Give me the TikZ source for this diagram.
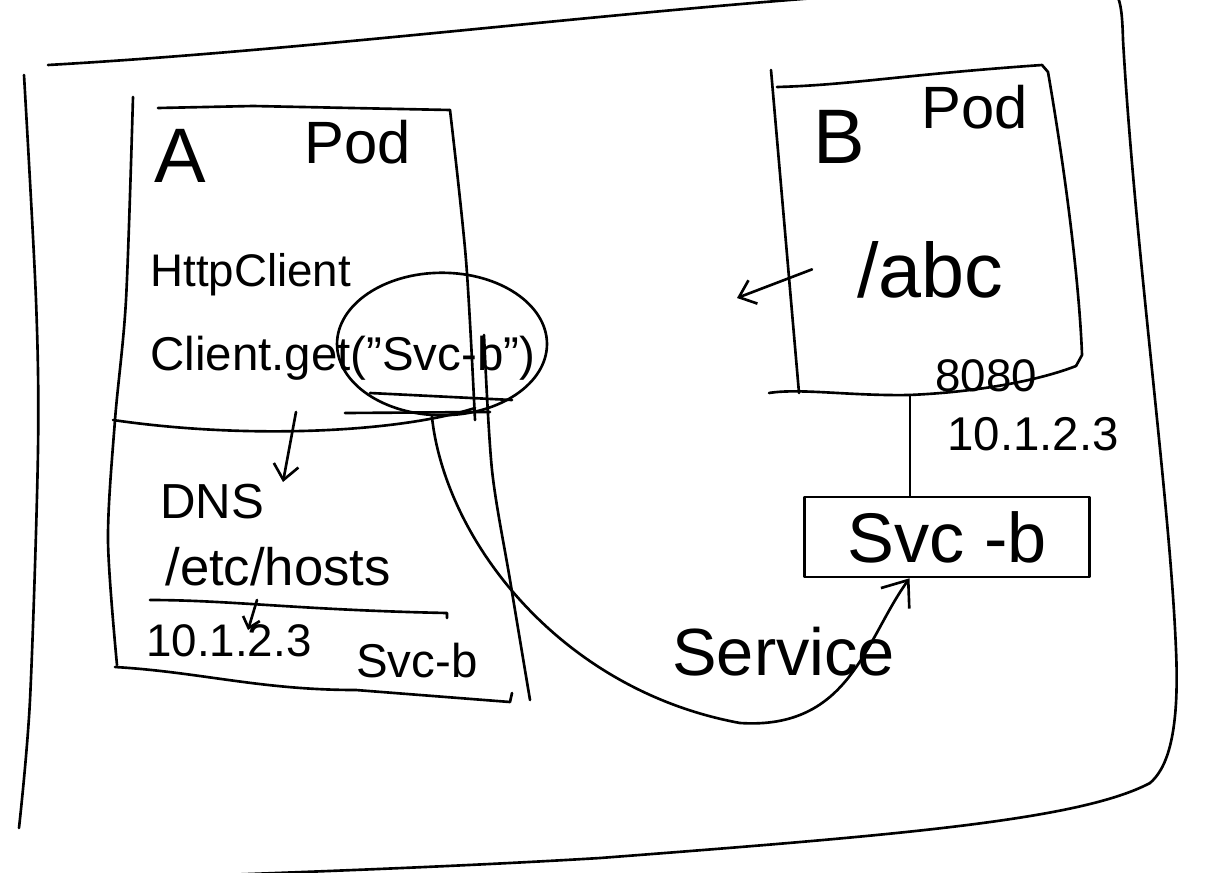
\documentclass[tikz,border=0pt]{standalone}
\usepackage{fontspec}
\setmainfont{Liberation Sans}
\usetikzlibrary{arrows.meta, positioning, shapes.geometric}

\begin{document}
\begin{tikzpicture}[
  x=0.02cm, y=-0.02cm,
  pen/.style={line width=1.5pt, line cap=round, line join=round},
  txt/.style={inner sep=0pt, anchor=base west, font=\fontsize{#1}{#1}\selectfont},
  arrow/.style={pen, -{Straight Barb[length=3mm, width=5mm]}},
  bigarrow/.style={pen, -{Straight Barb[length=4.5mm, width=7mm]}},
  svcbox/.style={draw, pen, minimum width=5.7cm, minimum height=1.6cm, font=\fontsize{40}{40}\selectfont},
  ring/.style={draw, pen, ellipse, minimum width=4.2cm, minimum height=2.85cm},
]
  \useasboundingbox (0,0) rectangle (1229,872);

  % cluster frame
  \draw[pen] (48,65) .. controls (400,45) and (800,-15) .. (1105,-15)
    .. controls (1120,-10) and (1122,5) .. (1123,40)
    .. controls (1135,250) and (1170,500) .. (1176,650)
    .. controls (1180,740) and (1165,770) .. (1150,783)
    .. controls (1080,820) and (900,835) .. (600,858)
    .. controls (400,870) and (200,875) .. (100,880);
  \draw[pen] plot[smooth] coordinates {(24,75) (36,300) (38,450) (30,700) (19,828)};

  % pod A
  \draw[pen] plot[smooth] coordinates {(133,97) (126,300) (115,420) (108,540) (117,665)};
  \draw[pen] (158,108) -- (253,106) -- (450,110);
  \draw[pen] plot[smooth] coordinates {(450,110) (466,260) (475,420)};
  \draw[pen] plot[smooth] coordinates {(484,335) (492,470) (510,580) (530,700)};
  \draw[pen] (113,420) .. controls (250,440) and (400,432) .. (475,408);
  \draw[pen] (115,667) .. controls (200,672) and (260,690) .. (356,690) -- (510,702) -- (512,693);
  \draw[pen] (150,600) .. controls (230,600) and (300,610) .. (447,613) -- (447,618);

  \node[txt=44] (a) at (154,182) {A};
  \node[txt=34] (poda) at (304,163) {Pod};
  \node[txt=26] (http) at (150,286) {HttpClient};
  \node[txt=27] (get) at (150,370) {Client.get("Svc-b")};
  \node[ring] (circ) at (442,344) {};
  \draw[pen] (370,393) -- (512,400);
  \draw[pen] (345,413) -- (490,412);
  \node[txt=28] (dns) at (160,518) {DNS};
  \node[txt=30] (hosts) at (165,585) {/etc/hosts};
  \node[txt=26] (ipa) at (146,656) {10.1.2.3};
  \node[txt=27] (svca) at (356,677) {Svc-b};

  \coordinate (gtail) at (296,412);
  \coordinate (gtip) at (283,482);
  \draw[arrow] (gtail) -- (gtip);
  \coordinate (htail) at (257,600);
  \coordinate (htip) at (248,630);
  \draw[pen, -{Straight Barb[length=2mm, width=3.5mm]}] (htail) -- (htip);

  % pod B
  \draw[pen] (771,70) -- (799,393);
  \draw[pen] (777,87) .. controls (850,85) and (900,75) .. (1042,65) -- (1048,72)
    .. controls (1070,200) and (1080,300) .. (1082,355) -- (1076,366);
  \draw[pen] (769,393) .. controls (800,388) and (850,396) .. (909,395)
    .. controls (980,392) and (1040,380) .. (1076,366);

  \node[txt=44] (b) at (813,163) {B};
  \node[txt=34] (podb) at (921,128) {Pod};
  \node[txt=44] (abc) at (857,297) {/abc};
  \node[txt=26] (port) at (935,391) {8080};
  \node[txt=27] (ipb) at (947,450) {10.1.2.3};

  \coordinate (out) at (737,298);
  \draw[arrow] ([xshift=-0.9cm]abc.west) -- (out);

  % service
  \node[svcbox] (svcb) at (947,537) {Svc -b};
  \coordinate (podbot) at (910,395);
  \draw[pen] (podbot) -- (podbot |- svcb.north);

  \draw[bigarrow] (circ.262) .. controls (445,540) and (560,690) .. (740,723)
    .. controls (850,730) and (865,640) .. ([xshift=-0.75cm]svcb.south);
  \node[txt=38] (service) at (672,675) {Service};
\end{tikzpicture}
\end{document}
